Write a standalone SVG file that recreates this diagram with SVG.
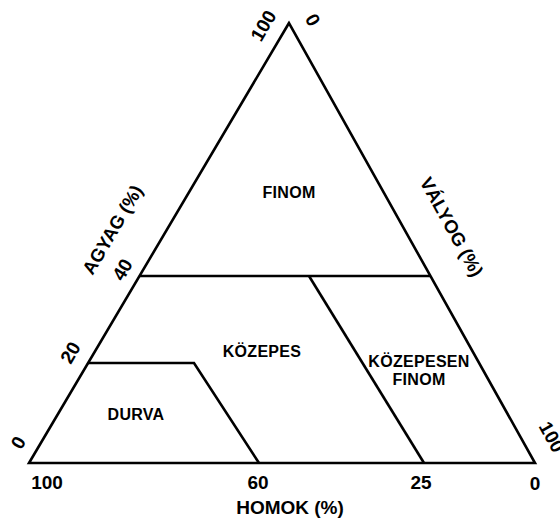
<svg xmlns="http://www.w3.org/2000/svg" width="560" height="519" viewBox="0 0 560 519">
<style>
.ln{fill:none;stroke:#000;stroke-width:2.6;stroke-linejoin:miter}
.t{font-family:"Liberation Sans",Arial,sans-serif;font-weight:bold;fill:#000;text-anchor:middle}
.s{font-size:16px;letter-spacing:0.3px}
.a{font-size:18.5px}
.h{font-size:19px}
.n{font-size:19px}
</style>
<rect width="560" height="519" fill="#fff"/>
<g id="connectors">
<polygon class="ln" points="289,23 29,463 535,463"/>
<line class="ln" x1="140" y1="276" x2="431" y2="276"/>
<polyline class="ln" points="88,363 194,363 259,463"/>
<line class="ln" x1="309" y1="276" x2="424" y2="463"/>
</g>
<g id="finom"><text class="t s" x="289" y="198">FINOM</text></g>
<g id="kozepes"><text class="t s" x="262" y="357">KÖZEPES</text></g>
<g id="kozepesen-finom"><text class="t s" x="419" y="367">KÖZEPESEN</text><text class="t s" x="419" y="385">FINOM</text></g>
<g id="durva"><text class="t s" x="136" y="420">DURVA</text></g>
<g id="axis-homok">
<text class="t h" x="290" y="514">HOMOK (%)</text>
<text class="t n" x="47" y="489">100</text>
<text class="t n" x="258" y="489">60</text>
<text class="t n" x="421" y="489">25</text>
<text class="t n" x="535" y="490">0</text>
</g>
<g id="axis-agyag">
<text class="t a" transform="translate(118,233) rotate(-59.5)">AGYAG (%)</text>
<text class="t n" transform="translate(269,29) rotate(-59.5)">100</text>
<text class="t n" transform="translate(128,273) rotate(-59.5)">40</text>
<text class="t n" transform="translate(76,356) rotate(-59.5)">20</text>
<text class="t n" transform="translate(24,446) rotate(-59.5)">0</text>
</g>
<g id="axis-valyog">
<text class="t a" transform="translate(446,230) rotate(61)">VÁLYOG (%)</text>
<text class="t n" transform="translate(307,23) rotate(61)">0</text>
<text class="t n" transform="translate(546,440) rotate(61)">100</text>
</g>
</svg>
